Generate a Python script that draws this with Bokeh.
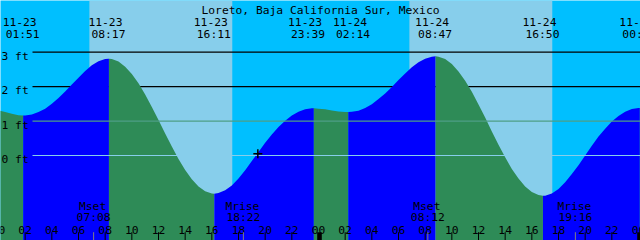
import numpy as np
from bokeh.plotting import figure
from bokeh.models import Range1d
from bokeh.core.properties import value
from bokeh.embed import file_html
from bokeh.resources import INLINE

TITLE = "Loreto, Baja California Sur, Mexico"

# tide events (high / low water)
event_dates = ["11-23", "11-23", "11-23", "11-23", "11-24", "11-24", "11-24", "11-25"]
event_times = ["01:51", "08:17", "16:11", "23:39", "02:14", "08:47", "16:50", "00:06"]
event_kinds = ["L", "H", "L", "H", "L", "H", "L", "H"]
event_ft = [1.16, 2.81, -1.11, 1.37, 1.26, 2.88, -1.17, 1.38]

# tide height readings (ft), every 30 minutes from 11-23 00:00
curve_ft = [
    1.31, 1.26, 1.21, 1.17, 1.16, 1.19, 1.26, 1.36,
    1.50, 1.67, 1.86, 2.06, 2.26, 2.45, 2.62, 2.74,
    2.80, 2.80, 2.73, 2.58, 2.37, 2.10, 1.77, 1.41,
    1.03, 0.64, 0.26, -0.10, -0.42, -0.69, -0.90, -1.04,
    -1.10, -1.09, -1.01, -0.87, -0.67, -0.43, -0.16, 0.10,
    0.37, 0.61, 0.83, 1.01, 1.16, 1.27, 1.34, 1.37,
    1.36, 1.34, 1.31, 1.28, 1.26, 1.27, 1.30, 1.38,
    1.49, 1.64, 1.80, 1.99, 2.19, 2.38, 2.56, 2.71,
    2.81, 2.87, 2.87, 2.80, 2.66, 2.44, 2.17, 1.85,
    1.48, 1.10, 0.70, 0.31, -0.05, -0.39, -0.67, -0.90,
    -1.06, -1.15, -1.17, -1.10, -0.97, -0.78, -0.54, -0.28,
    0.00, 0.28, 0.55, 0.78, 0.99, 1.15, 1.27, 1.35,
    1.38, 1.37,
]
READING_STEP_H = 0.5

# sun and moon
sunrise_times = ["11-23 06:49", "11-24 06:49"]
sunset_times = ["11-23 17:32", "11-24 17:32"]
moon_labels = ["Mset", "Mrise", "Mset", "Mrise"]
moon_dates = ["11-23", "11-23", "11-24", "11-24"]
moon_times = ["07:08", "18:22", "08:12", "19:16"]

# "now" marker
now_time = "11-23 19:27"
now_ft = 0.05

# depth lines
level_ft = [3, 2, 1, 0]
level_labels = ["3 ft", "2 ft", "1 ft", "0 ft"]
tick_hours = list(range(0, 49, 2))

# ---- helpers ----
def to_hours(date, hm):
    day = int(date.split("-")[1]) - 23
    hh, mm = hm.split(":")
    return day * 24 + int(hh) + int(mm) / 60.0

PX_PER_H = 640 / 48.0
PX_PER_FT = 34.44
X_START = 2 / PX_PER_H
X_END = X_START + 48
Y_TOP = 155 / PX_PER_FT
Y_BOT = -(240 - 155) / PX_PER_FT

FONT = value("DejaVu Sans Mono")
FS = "11.3px"
SKY_NIGHT = "#00BFFF"
SKY_DAY = "#87CEEB"
RISING = "#0000FF"
FALLING = "#2E8B57"

ev_h = np.array([to_hours(d, t) for d, t in zip(event_dates, event_times)])
rd_h = np.arange(len(curve_ft)) * READING_STEP_H
all_h = np.concatenate([rd_h, ev_h])
all_v = np.concatenate([np.array(curve_ft), np.array(event_ft)])
order = np.argsort(all_h, kind="stable")
all_h = all_h[order]
all_v = all_v[order]

p = figure(width=640, height=240, x_range=Range1d(X_START, X_END),
           y_range=Range1d(Y_BOT, Y_TOP), output_backend="svg",
           toolbar_location=None, min_border=0,
           x_axis_location=None, y_axis_location=None,
           background_fill_color=SKY_NIGHT, border_fill_color=SKY_NIGHT,
           outline_line_color=None)
p.grid.visible = False

# daylight
sr = [to_hours(*s.split(" ")) for s in sunrise_times]
ss = [to_hours(*s.split(" ")) for s in sunset_times]
p.quad(left=sr, right=ss, bottom=Y_BOT, top=Y_TOP, color=SKY_DAY, line_color=None)

line_x0 = X_START + 32 / PX_PER_H
# upper depth lines (behind water)
upper = [lv for lv in level_ft if lv >= 2]
p.segment(x0=[line_x0] * len(upper), x1=[X_END] * len(upper), y0=upper, y1=upper,
          line_color="black", line_width=1.2)

# water, coloured by rising / falling
bounds = [-1e9] + list(ev_h) + [1e9]
for k in range(len(bounds) - 1):
    m = (all_h >= bounds[k]) & (all_h <= bounds[k + 1])
    if m.sum() < 2:
        continue
    if k < len(event_kinds):
        col = RISING if event_kinds[k] == "H" else FALLING
    else:
        col = FALLING if event_kinds[-1] == "H" else RISING
    p.varea(x=all_h[m], y1=Y_BOT, y2=all_v[m], fill_color=col)

# lower depth lines (over water)
lower_cols = {1: "#4E9E86", 0: SKY_DAY}
for lv in level_ft:
    if lv in lower_cols:
        p.segment(x0=[line_x0], x1=[X_END], y0=[lv], y1=[lv],
                  line_color=lower_cols[lv], line_width=1.2)

p.text(x=[X_START] * len(level_ft), y=level_ft, text=level_labels, text_font=FONT,
       text_font_size=FS, text_align="left", text_baseline="alphabetic",
       x_offset=1, y_offset=4, text_color="black")

# now marker
p.scatter(x=[to_hours(*now_time.split(" "))], y=[now_ft], marker="cross", size=9,
          line_color="black", line_width=1.5)

# title
p.text(x=[(X_START + X_END) / 2], y=[Y_TOP], text=[TITLE], text_font=FONT,
       text_font_size=FS, text_align="center", text_baseline="alphabetic",
       y_offset=9.7, text_color="black")

# event labels with overlap avoidance
MIN_SEP = 45
cx = (ev_h - X_START) * PX_PER_H
for i in range(len(cx) - 1):
    gap = cx[i + 1] - cx[i]
    if gap < MIN_SEP:
        d = (MIN_SEP - gap) / 2
        cx[i] -= d
        cx[i + 1] += d
lab_x = cx / PX_PER_H + X_START
p.text(x=lab_x, y=[Y_TOP] * len(lab_x), text=event_dates, text_font=FONT,
       text_font_size=FS, text_align="center", text_baseline="alphabetic",
       x_offset=-3.5, y_offset=21, text_color="black")
p.text(x=lab_x, y=[Y_TOP] * len(lab_x), text=event_times, text_font=FONT,
       text_font_size=FS, text_align="center", text_baseline="alphabetic",
       x_offset=-0.5, y_offset=34, text_color="black")

# time axis ticks
TICK_LEN = 8.3 / PX_PER_FT
mid = [h for h in tick_hours if h % 24 == 0 and h > X_START]
reg = [h for h in tick_hours if h % 24 != 0]
p.segment(x0=reg, x1=reg, y0=[Y_BOT] * len(reg), y1=[Y_BOT + TICK_LEN] * len(reg),
          line_color="black", line_width=1)
p.quad(left=[h - 1.3 / PX_PER_H for h in mid], right=[h + 3.3 / PX_PER_H for h in mid],
       bottom=Y_BOT, top=Y_BOT + TICK_LEN, color="black", line_color=None)
p.text(x=tick_hours, y=[Y_BOT] * len(tick_hours),
       text=["%02d" % (h % 24) for h in tick_hours], text_font=FONT,
       text_font_size=FS, text_align="center", text_baseline="alphabetic",
       y_offset=-10.5, text_color="black")

# moon events
mh = [to_hours(d, t) for d, t in zip(moon_dates, moon_times)]
p.segment(x0=mh, x1=mh, y0=[Y_BOT] * len(mh), y1=[Y_BOT + TICK_LEN] * len(mh),
          line_color="#808080", line_width=1)
p.text(x=mh, y=[Y_BOT] * len(mh), text=moon_labels, text_font=FONT,
       text_font_size=FS, text_align="center", text_baseline="alphabetic",
       x_offset=-1, y_offset=-34, text_color="black")
p.text(x=mh, y=[Y_BOT] * len(mh), text=moon_times, text_font=FONT,
       text_font_size=FS, text_align="center", text_baseline="alphabetic",
       y_offset=-22.7, text_color="black")

open("out.html", "w").write(file_html(p, INLINE))
